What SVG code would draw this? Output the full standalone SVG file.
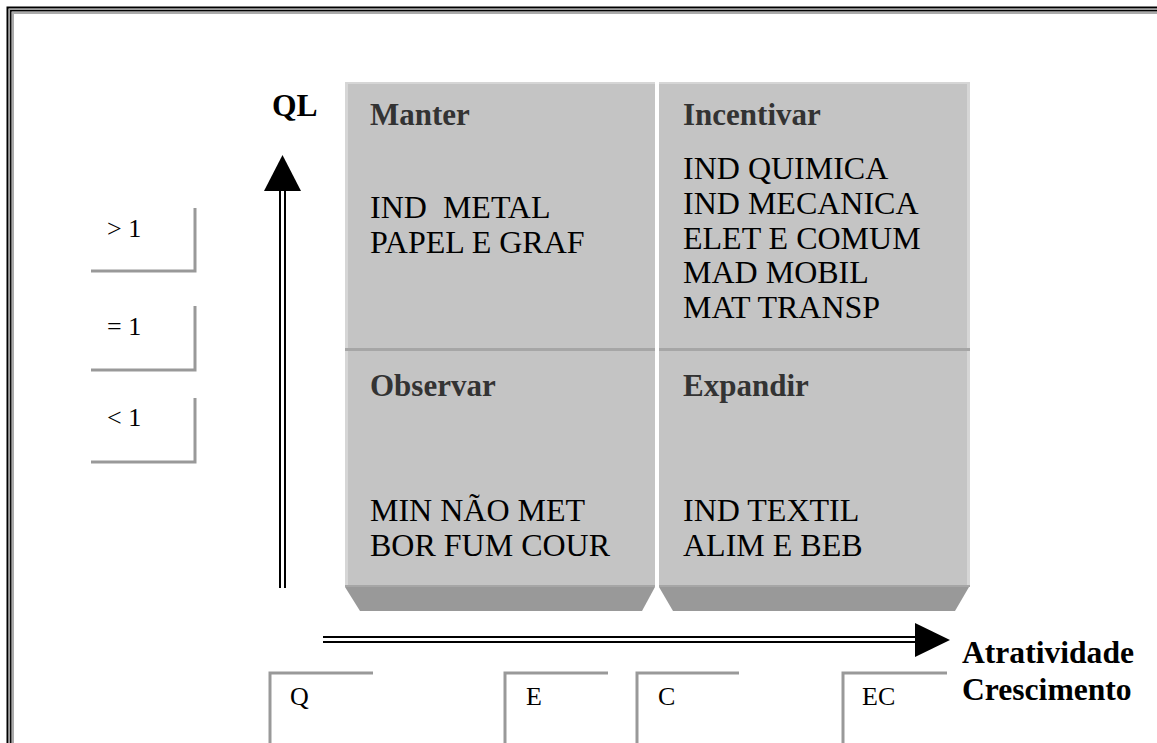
<svg xmlns="http://www.w3.org/2000/svg" width="1157" height="743" viewBox="0 0 1157 743">
  <style>
    .head { font-family: "Liberation Serif", "Times New Roman", serif; font-weight: bold; font-size: 31px; fill: #333333; }
    .body { font-family: "Liberation Serif", "Times New Roman", serif; font-size: 32px; fill: #000000; white-space: pre; }
    .axis { font-family: "Liberation Serif", "Times New Roman", serif; font-weight: bold; font-size: 31.6px; fill: #000000; }
    .tick { font-family: "Liberation Serif", "Times New Roman", serif; font-size: 26px; fill: #000000; }
    .cell { fill: #c4c4c4; }
    .lite { fill: #d6d6d6; }
    .dark { fill: #a6a6a6; }
    .foot { fill: #999999; }
    .tickbox { fill: none; stroke: #999999; stroke-width: 3; }
    .rail { stroke: #000000; stroke-width: 2; fill: none; }
  </style>

  <rect width="1157" height="743" fill="#ffffff"/>

  <!-- page frame (open at right and bottom) -->
  <g id="frame" fill="none">
    <path d="M7.5 743 V7.5 H1157" stroke="#000" stroke-width="2"/>
    <path d="M9.3 743 V9.3 H1157" stroke="#8a8a8a" stroke-width="1"/>
    <path d="M10.8 743 V10.8 H1157" stroke="#000" stroke-width="1.5"/>
    <path d="M13 743 V13 H1157" stroke="#aaaaaa" stroke-width="2"/>
  </g>

  <!-- quadrant: Manter -->
  <g id="q-manter">
    <rect class="cell" x="345" y="82" width="310" height="268"/>
    <rect class="lite" x="345" y="82" width="310" height="2"/>
    <rect class="lite" x="345" y="82" width="3" height="268"/>
    <rect class="dark" x="345" y="348" width="310" height="3"/>
    <text class="head" x="370" y="125">Manter</text>
    <text class="body" x="370" y="218">IND  METAL</text>
    <text class="body" x="370" y="253">PAPEL E GRAF</text>
  </g>

  <!-- quadrant: Incentivar -->
  <g id="q-incentivar">
    <rect class="cell" x="659" y="82" width="311" height="268"/>
    <rect class="lite" x="659" y="82" width="311" height="2"/>
    <rect class="lite" x="967" y="82" width="3" height="268"/>
    <rect class="dark" x="659" y="348" width="311" height="3"/>
    <text class="head" x="683" y="125">Incentivar</text>
    <text class="body" x="683" y="179">IND QUIMICA</text>
    <text class="body" x="683" y="214">IND MECANICA</text>
    <text class="body" x="683" y="249">ELET E COMUM</text>
    <text class="body" x="683" y="283">MAD MOBIL</text>
    <text class="body" x="683" y="318">MAT TRANSP</text>
  </g>

  <!-- quadrant: Observar -->
  <g id="q-observar">
    <rect class="cell" x="345" y="351" width="310" height="236"/>
    <rect class="lite" x="345" y="351" width="3" height="236"/>
    <rect class="dark" x="345" y="585" width="310" height="2"/>
    <polygon class="foot" points="345,587 655,587 642,611 360,611"/>
    <text class="head" x="370" y="396">Observar</text>
    <text class="body" x="370" y="521">MIN NÃO MET</text>
    <text class="body" x="370" y="556">BOR FUM COUR</text>
  </g>

  <!-- quadrant: Expandir -->
  <g id="q-expandir">
    <rect class="cell" x="659" y="351" width="311" height="236"/>
    <rect class="lite" x="967" y="351" width="3" height="236"/>
    <rect class="dark" x="659" y="585" width="311" height="2"/>
    <polygon class="foot" points="659,587 969,587 955,611 673,611"/>
    <text class="head" x="683" y="396">Expandir</text>
    <text class="body" x="683" y="521">IND TEXTIL</text>
    <text class="body" x="683" y="556">ALIM E BEB</text>
  </g>

  <!-- axis titles -->
  <g id="label-ql">
    <text class="axis" x="272" y="116" font-size="30">QL</text>
  </g>
  <g id="label-atratividade">
    <text class="axis" x="962" y="663">Atratividade</text>
    <text class="axis" x="962" y="700">Crescimento</text>
  </g>

  <!-- QL scale boxes -->
  <g id="ql-gt">
    <path class="tickbox" d="M195 208 V271 H91"/>
    <text class="tick" x="107" y="237">&gt; 1</text>
  </g>
  <g id="ql-eq">
    <path class="tickbox" d="M195 306 V370 H91"/>
    <text class="tick" x="107" y="335">= 1</text>
  </g>
  <g id="ql-lt">
    <path class="tickbox" d="M195 398 V462 H91"/>
    <text class="tick" x="107" y="426">&lt; 1</text>
  </g>

  <!-- growth scale boxes -->
  <g id="g-q">
    <path class="tickbox" d="M270 743 V673 H373"/>
    <text class="tick" x="290" y="705">Q</text>
  </g>
  <g id="g-e">
    <path class="tickbox" d="M505 743 V673 H608"/>
    <text class="tick" x="526" y="705">E</text>
  </g>
  <g id="g-c">
    <path class="tickbox" d="M637 743 V673 H739"/>
    <text class="tick" x="658" y="705">C</text>
  </g>
  <g id="g-ec">
    <path class="tickbox" d="M843 743 V673 H947"/>
    <text class="tick" x="862" y="705">EC</text>
  </g>

  <!-- axes: double-rail arrows -->
  <g id="connectors">
    <path class="rail" d="M280 588 V188 M285 588 V188"/>
    <polygon points="282.5,155 264,191 301,191" fill="#000"/>
    <path class="rail" d="M323 637 H917 M323 642 H917"/>
    <polygon points="915,623 950,640 915,657" fill="#000"/>
  </g>
</svg>
